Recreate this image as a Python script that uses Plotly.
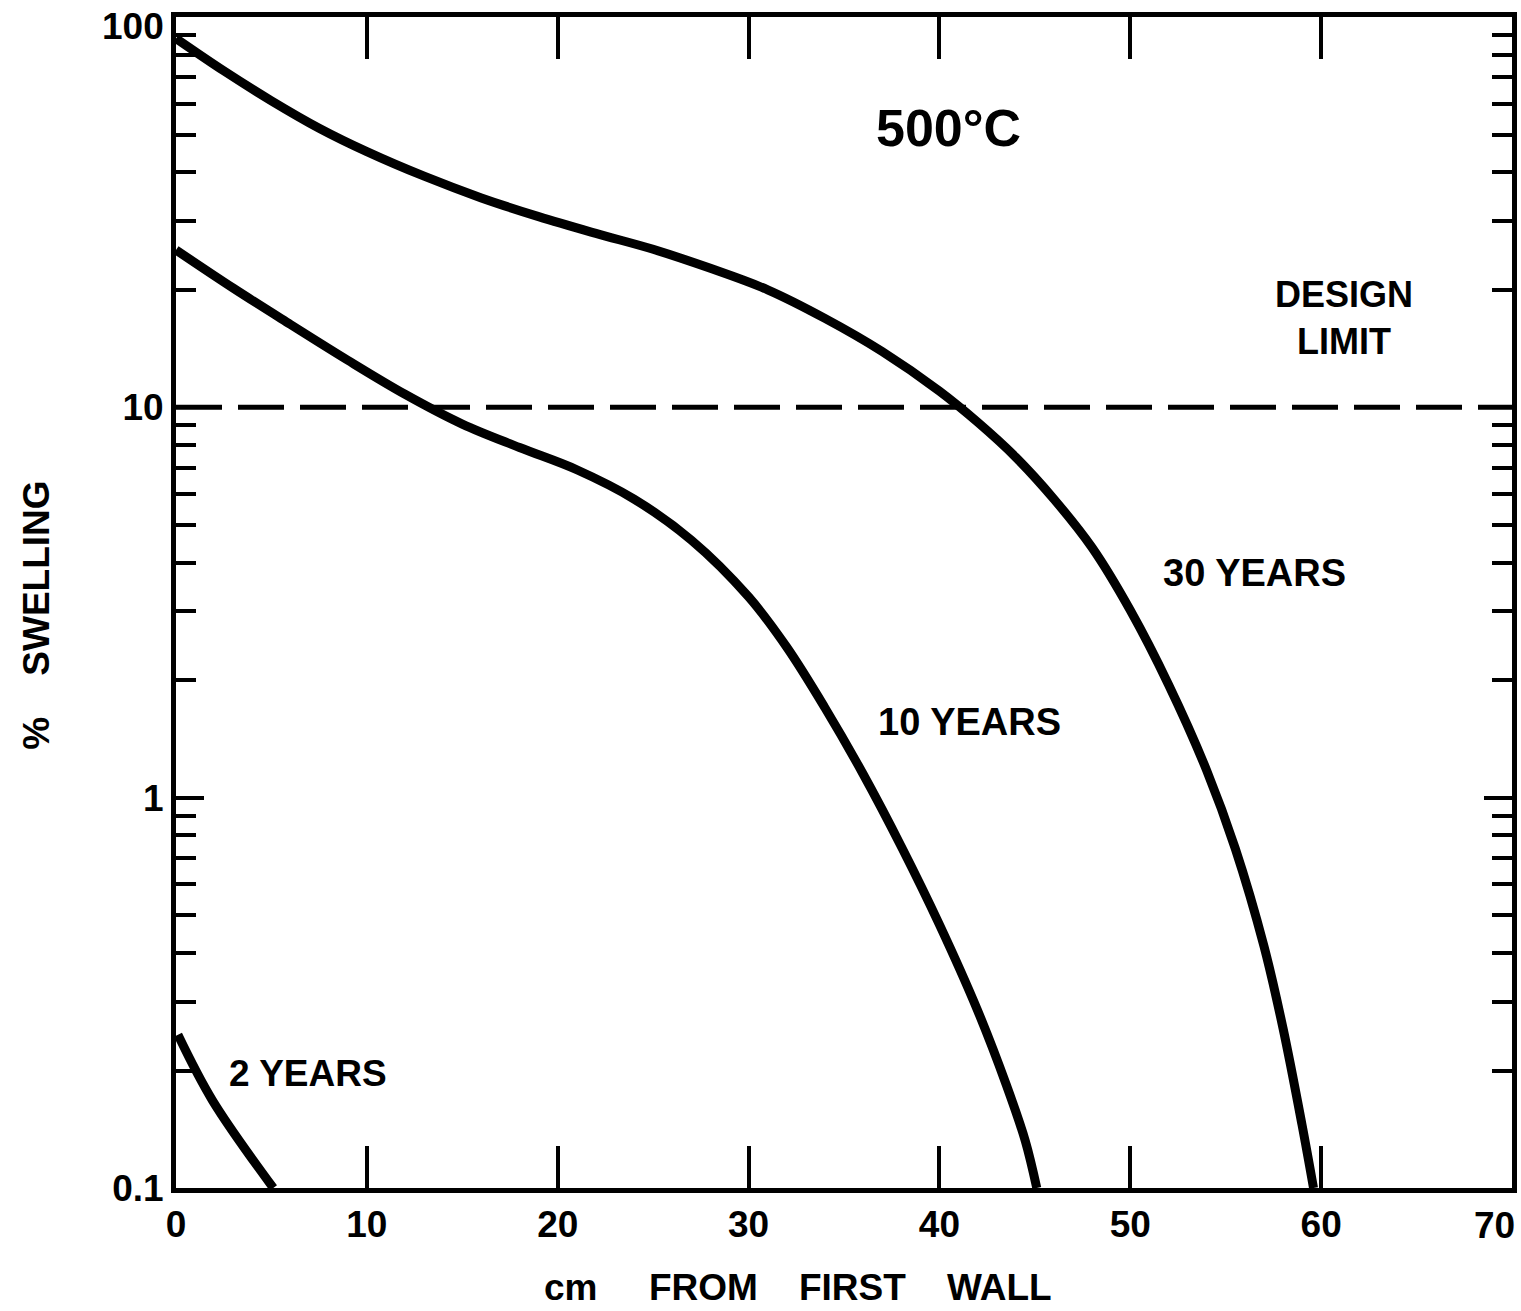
import plotly.graph_objects as go

# Distance from the first wall (cm) and % swelling at 500 °C
x_30yr = [0, 2.5, 5, 7.5, 10, 13, 16, 19, 22, 25, 28, 31, 34, 37, 40, 42, 44, 46, 48,
          50, 52, 54, 55.5, 57, 58, 59, 59.6]
y_30yr = [88.1, 72.8, 61.0, 51.9, 45.2, 39.1, 34.4, 30.8, 27.9, 25.4, 22.7, 20.0, 16.9,
          13.9, 11.0, 9.16, 7.45, 5.82, 4.37, 3.02, 1.95, 1.175, 0.741, 0.417, 0.257, 0.145, 0.1]

x_10yr = [0, 3, 6, 9, 12, 15, 18, 21, 24, 27, 30, 32, 34, 36, 38, 40, 42, 43.5, 44.5, 45.1]
y_10yr = [25.3, 20.2, 16.3, 13.2, 10.8, 9.06, 7.89, 6.92, 5.82, 4.57, 3.27, 2.43, 1.70,
          1.15, 0.750, 0.473, 0.285, 0.184, 0.132, 0.1]

x_2yr = [0.1, 1.9, 5.1]
y_2yr = [0.247, 0.168, 0.1]

design_limit = 10.0

x_ticks = [0, 10, 20, 30, 40, 50, 60, 70]
x_tick_text = ["0", "10", "20", "30", "40", "50", "60", "70"]
y_ticks = [0.1, 1, 10, 100]
y_tick_text = ["0.1", "1", "10", "100"]

FONT = "Liberation Sans"
INK = "black"
tick_font = dict(family=FONT, size=37, color=INK, weight="bold")

fig = go.Figure()

for xs, ys in [(x_30yr, y_30yr), (x_10yr, y_10yr), (x_2yr, y_2yr)]:
    fig.add_trace(go.Scatter(
        x=xs, y=ys, mode="lines",
        line=dict(color=INK, width=9, shape="spline", smoothing=1.0),
        showlegend=False, hoverinfo="skip",
    ))

# Design limit
fig.add_trace(go.Scatter(
    x=[0, 70], y=[design_limit, design_limit], mode="lines",
    line=dict(color=INK, width=5, dash="46px,16px"),
    showlegend=False, hoverinfo="skip",
))

labels = [
    ("500°C", 40.5, 1.716, 52),
    ("DESIGN<br>LIMIT", 61.2, 1.229, 36),
    ("30 YEARS", 56.5, 0.575, 38),
    ("10 YEARS", 41.6, 0.194, 38),
    ("2 YEARS", 6.9, -0.706, 37),
]
for text, lx, ly, size in labels:
    fig.add_annotation(
        x=lx, y=ly, xref="x", yref="y", text=text, showarrow=False,
        font=dict(family=FONT, size=size, color=INK, weight="bold"),
        align="center",
    )

# The end labels of each axis sit at the figure edge; nudge them inward
fig.add_annotation(
    x=x_ticks[-1], y=0, xref="x", yref="paper", text=x_tick_text[-1],
    showarrow=False, font=tick_font, xanchor="right", yanchor="middle",
    xshift=5, yshift=-37,
)
fig.add_annotation(
    x=0, y=2, xref="paper", yref="y", text=y_tick_text[-1],
    showarrow=False, font=tick_font, xanchor="right", yanchor="middle",
    xshift=-10, yshift=-9,
)

# Axis titles
fig.add_annotation(
    x=(798 - 176) / 1336, y=-0.085, xref="paper", yref="paper",
    text="cm&nbsp;&nbsp;&nbsp;&nbsp;&nbsp;FROM&nbsp;&nbsp;&nbsp;&nbsp;FIRST&nbsp;&nbsp;&nbsp;&nbsp;WALL",
    showarrow=False, font=tick_font, yanchor="middle",
)
fig.add_annotation(
    x=-0.105, y=(1188 - 615) / 1171, xref="paper", yref="paper",
    text="%&nbsp;&nbsp;&nbsp;&nbsp;SWELLING", textangle=-90,
    showarrow=False, font=tick_font, xanchor="center",
)

fig.update_xaxes(
    range=[0, 70], tickvals=x_ticks, ticktext=x_tick_text[:-1] + [""],
    showline=True, linewidth=5, linecolor=INK, mirror="ticks",
    ticks="inside", ticklen=42, tickwidth=4, tickcolor=INK,
    showgrid=False, zeroline=False, automargin=False,
    tickfont=tick_font,
)
fig.update_yaxes(
    type="log", range=[-1, 2], tickvals=y_ticks, ticktext=y_tick_text[:-1] + [""],
    showline=True, linewidth=5, linecolor=INK, mirror="ticks",
    ticks="inside", ticklen=28, tickwidth=4, tickcolor=INK,
    minor=dict(ticks="inside", ticklen=20, tickwidth=4, tickcolor=INK, dtick="D1", showgrid=False),
    showgrid=False, zeroline=False, automargin=False,
    tickfont=tick_font,
)

fig.update_layout(
    width=1521, height=1311,
    margin=dict(l=176, r=9, t=17, b=123),
    paper_bgcolor="white", plot_bgcolor="white",
    showlegend=False,
)

fig.write_html("out.html")
